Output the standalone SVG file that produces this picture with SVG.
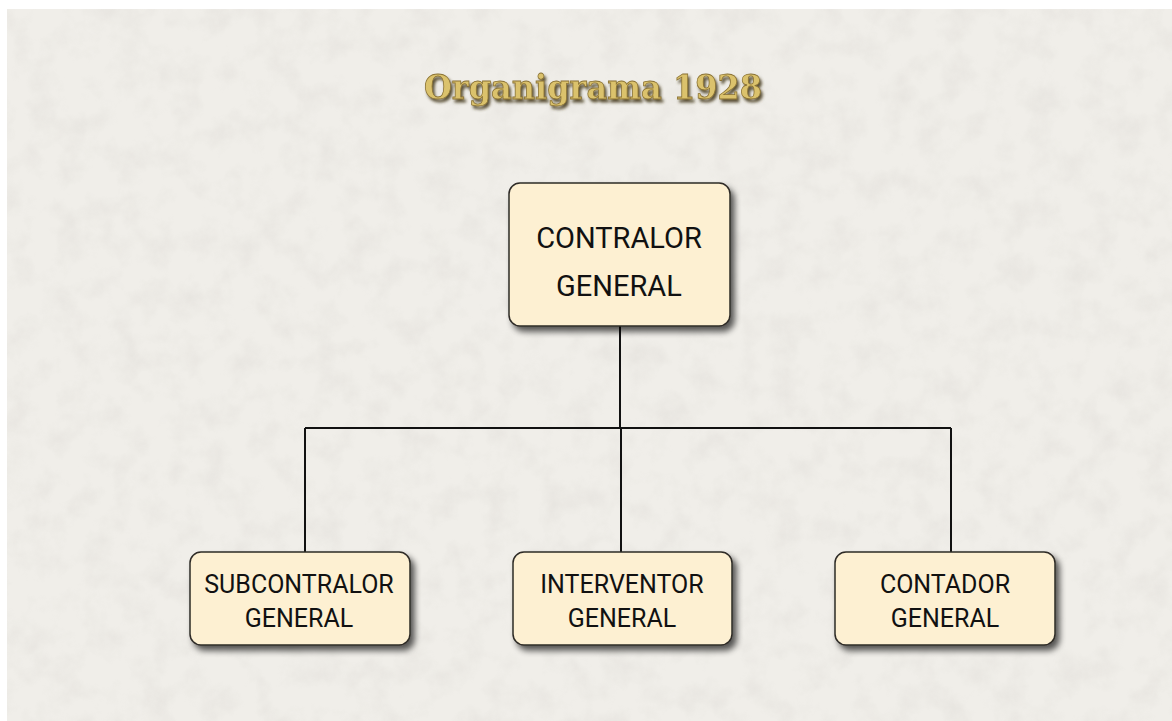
<svg xmlns="http://www.w3.org/2000/svg" width="1172" height="721" viewBox="0 0 1172 721">
<style>
.box{fill:#fdf0d2;stroke:#2e2b26;stroke-width:1.5}
.lbl{font-family:Roboto,"Liberation Sans",sans-serif;fill:#111;text-anchor:middle}
.big{font-size:29px}
.sm{font-size:25px}
.conn{fill:none;stroke:#111;stroke-width:2}
.title{font-family:"DejaVu Serif","Liberation Serif",serif;font-weight:bold;font-size:34px;text-anchor:middle}
</style>
<defs>
<filter id="paper" x="0" y="0" width="100%" height="100%">
<feTurbulence type="fractalNoise" baseFrequency="0.035" numOctaves="4" seed="7" result="n"/>
<feColorMatrix in="n" type="matrix" values="0 0 0 0 0.55  0 0 0 0 0.53  0 0 0 0 0.5  0 0 0 -1.3 0.75" result="c"/>
<feComposite in="c" in2="SourceGraphic" operator="in"/>
</filter>
<filter id="shadow" x="-20%" y="-20%" width="150%" height="150%">
<feGaussianBlur in="SourceAlpha" stdDeviation="3"/>
<feOffset dx="4" dy="5" result="b"/>
<feComponentTransfer><feFuncA type="linear" slope="0.65"/></feComponentTransfer>
<feMerge><feMergeNode/><feMergeNode in="SourceGraphic"/></feMerge>
</filter>
<filter id="tshadow" x="-10%" y="-30%" width="120%" height="170%">
<feGaussianBlur in="SourceAlpha" stdDeviation="1.5"/>
<feOffset dx="2" dy="3" result="b"/>
<feFlood flood-color="#4a3f22" flood-opacity="0.9"/>
<feComposite in2="b" operator="in"/>
<feMerge><feMergeNode/><feMergeNode in="SourceGraphic"/></feMerge>
</filter>
</defs>
<rect width="1172" height="721" fill="#ffffff"/>
<rect x="7" y="9" width="1165" height="712" fill="#f0eee9"/>
<rect x="7" y="9" width="1165" height="712" fill="#f0eee9" filter="url(#paper)" opacity="0.28"/>
<g id="title">
<text class="title" x="593" y="99" textLength="338" lengthAdjust="spacingAndGlyphs" fill="#dbc26c" stroke="#8a7234" stroke-width="0.8" filter="url(#tshadow)">Organigrama 1928</text>
</g>
<g id="connectors">
<path class="conn" d="M620 326 V428 M305 428 H951 M305 428 V552 M621 428 V552 M951 428 V552"/>
</g>
<g id="contralor">
<rect class="box" x="509" y="183" width="221" height="143" rx="11" filter="url(#shadow)"/>
<text class="lbl big" x="619" y="248">CONTRALOR</text>
<text class="lbl big" x="619" y="296">GENERAL</text>
</g>
<g id="subcontralor">
<rect class="box" x="190" y="552" width="220" height="93" rx="11" filter="url(#shadow)"/>
<text class="lbl sm" x="299" y="593">SUBCONTRALOR</text>
<text class="lbl sm" x="299" y="627">GENERAL</text>
</g>
<g id="interventor">
<rect class="box" x="513" y="552" width="219" height="93" rx="11" filter="url(#shadow)"/>
<text class="lbl sm" x="622" y="593">INTERVENTOR</text>
<text class="lbl sm" x="622" y="627">GENERAL</text>
</g>
<g id="contador">
<rect class="box" x="835" y="552" width="220" height="93" rx="11" filter="url(#shadow)"/>
<text class="lbl sm" x="945" y="593">CONTADOR</text>
<text class="lbl sm" x="945" y="627">GENERAL</text>
</g>
</svg>
